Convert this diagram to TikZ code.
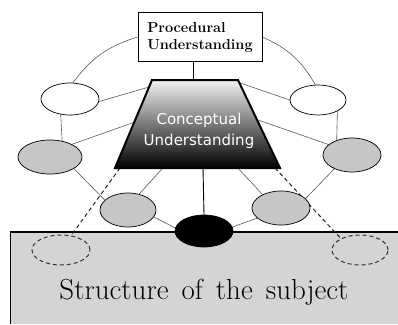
\documentclass[tikz,border=0pt]{standalone}
\usepackage{fontspec}
\newfontfamily\conceptfont{DejaVu Sans}
\usetikzlibrary{shapes.geometric,calc,backgrounds}

\tikzset{
    link/.style={black!65, line width=0.6pt},
    bubble/.style={ellipse, draw=black, line width=0.7pt, minimum width=58pt, minimum height=32pt, inner sep=0pt},
    blank/.style={bubble, fill=white},
    shaded/.style={bubble, fill=gray!45},
    ghost/.style={bubble, draw=black!80, dash pattern=on 4pt off 3pt, line width=1pt},
}

\begin{document}
\begin{tikzpicture}[x=1pt,y=-1pt]
    \useasboundingbox (0,0) rectangle (398,324);

    % Procedural understanding box
    \node[draw, line width=0.9pt, fill=white, minimum width=124pt, minimum height=49pt,
          align=left, font=\rmfamily\bfseries\fontsize{14.5}{17}\selectfont] (proc) at (200,37)
        {Procedural\\Understanding};

    % Trapezoid corners
    \coordinate (tl) at (152,80);
    \coordinate (tr) at (238,80);
    \coordinate (br) at (280,168);
    \coordinate (bl) at (115,168);
    \coordinate (tc) at (193,80);
    \coordinate (bc) at (203,168);

    % Ellipses around the ring
    \node[blank] (ul) at (70,99) {};
    \node[blank, minimum width=56pt, minimum height=30pt] (ur) at (318,100) {};
    \node[shaded, minimum width=64pt, minimum height=34pt] (ml) at (50,157) {};
    \node[shaded, minimum height=34pt] (mr) at (352,155) {};
    \node[shaded, minimum width=56pt, minimum height=34pt] (ll) at (128,210) {};
    \node[shaded, minimum height=34pt] (lr) at (281,208) {};
    \node[bubble, fill=black] (core) at (204,231) {};
    \node[ghost, minimum height=30pt] (dl) at (61,250) {};
    \node[ghost, minimum width=56pt, minimum height=30pt] (dr) at (360,250) {};

    % Structure of the subject
    \node[font=\rmfamily\fontsize{29}{31}\selectfont] (subject) at (204,292)
        {Structure\hspace{0.45em}of\hspace{0.45em}the\hspace{0.45em}subject};

    \begin{scope}[on background layer]
        % Ground block
        \fill[gray!34] (10,232) rectangle (398,324);
        \draw[line width=0.6pt] (10,324) -- (10,232);
        \draw[line width=1.4pt] (10,232) -- (398,232);

        % Big ring
        \draw[link] (proc.west) to[bend right=18] (ul.80);
        \draw[link] (proc.east) to[bend left=18] (ur.100);
        \draw[link] (ul.239) -- (ml.53);
        \draw[link] (ur.330) -- (mr.136);
        \draw[link] (ml.334) -- (ll.157);
        \draw[link] (mr.218) -- (lr.21);
        \draw[link] (ll.345) -- (core.174);
        \draw[link] (lr.203) -- (core.8);

        % Spokes to the trapezoid
        \draw[link] (ul.355) -- ($(tl)!0.08!(bl)$);
        \draw[link] (ml.30) -- ($(tl)!0.48!(bl)$);
        \draw[link] (ur.180) -- ($(tr)!0.03!(br)$);
        \draw[link] (mr.156) -- ($(tr)!0.45!(br)$);
        \draw[link] ($(bl)!0.29!(br)$) -- (ll.55);
        \draw[link] ($(bl)!0.745!(br)$) -- (lr.144);

        % Dashed projections
        \draw[black!85, dash pattern=on 4pt off 3pt, line width=1pt] ($(bl)!0.03!(br)$) -- (dl.55);
        \draw[black!85, dash pattern=on 4pt off 3pt, line width=1pt] ($(br)!0.03!(bl)$) -- (dr.149);

        % Vertical stems
        \draw[line width=0.9pt] (proc.south -| tc) -- (tc);
        \draw[line width=0.9pt] (bc) -- (core.north);

        % Conceptual understanding trapezoid
        \draw[line width=2pt, top color=gray!10, middle color=gray!55, bottom color=black, shading angle=0]
            (tl) -- (tr) -- (br) -- (bl) -- cycle;
    \end{scope}

    \node[white, align=center, font=\conceptfont\fontsize{15}{21}\selectfont] (concept) at (199,131)
        {Conceptual\\Understanding};
\end{tikzpicture}
\end{document}
